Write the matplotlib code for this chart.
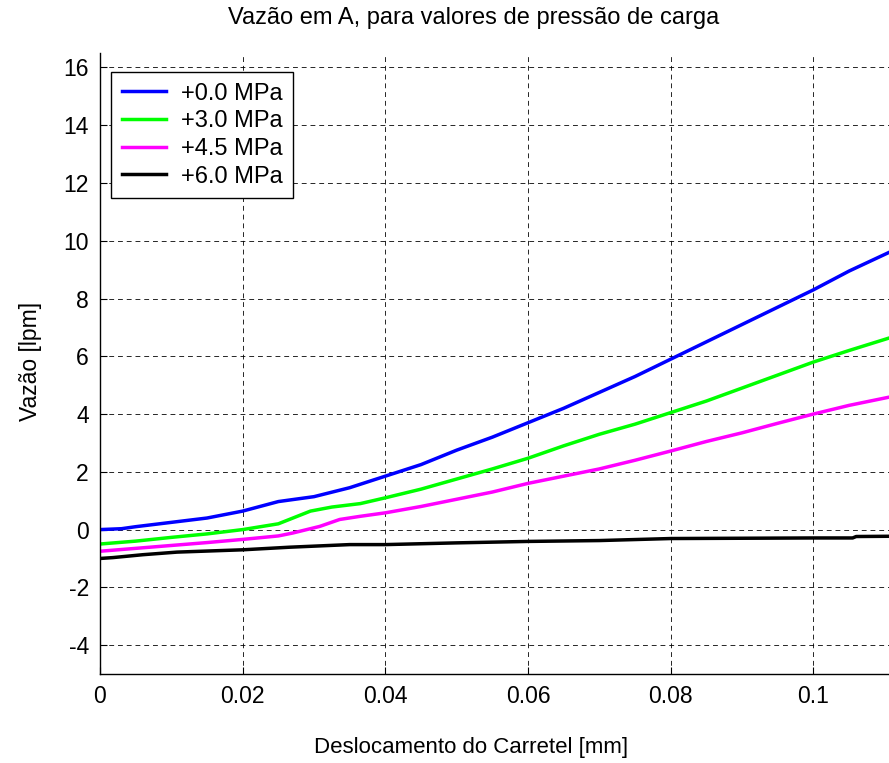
import matplotlib
matplotlib.use("Agg")
import matplotlib.pyplot as plt

plt.rcParams['font.family'] = ['Liberation Sans', 'DejaVu Sans']
plt.rcParams['axes.unicode_minus'] = False

# Spool displacement [mm] and flow [lpm] for each load pressure
x_p0 = [0.0, 0.003, 0.005, 0.01, 0.015, 0.02, 0.025, 0.03, 0.035, 0.04, 0.045, 0.05,
        0.055, 0.06, 0.065, 0.07, 0.075, 0.08, 0.085, 0.09, 0.095, 0.1, 0.105, 0.1115]
q_p0 = [0.0, 0.03, 0.1, 0.25, 0.4, 0.64, 0.97, 1.14, 1.45, 1.85, 2.25, 2.75,
        3.2, 3.7, 4.2, 4.75, 5.3, 5.9, 6.5, 7.1, 7.7, 8.3, 8.95, 9.7]

x_p3 = [0.0, 0.005, 0.01, 0.015, 0.02, 0.025, 0.0295, 0.0325, 0.0365, 0.04, 0.045, 0.05,
        0.055, 0.06, 0.065, 0.07, 0.075, 0.08, 0.085, 0.09, 0.095, 0.1, 0.105, 0.1115]
q_p3 = [-0.5, -0.4, -0.27, -0.15, 0.0, 0.2, 0.64, 0.78, 0.9, 1.1, 1.4, 1.75,
        2.1, 2.47, 2.9, 3.3, 3.65, 4.05, 4.45, 4.9, 5.35, 5.8, 6.2, 6.7]

x_p45 = [0.0, 0.005, 0.01, 0.015, 0.02, 0.025, 0.027, 0.0308, 0.0336, 0.0365, 0.04, 0.045,
         0.05, 0.055, 0.06, 0.065, 0.07, 0.075, 0.08, 0.085, 0.09, 0.095, 0.1, 0.105, 0.1115]
q_p45 = [-0.75, -0.65, -0.55, -0.45, -0.34, -0.22, -0.12, 0.11, 0.35, 0.46, 0.58, 0.8,
         1.05, 1.3, 1.6, 1.85, 2.1, 2.4, 2.72, 3.05, 3.35, 3.68, 4.0, 4.3, 4.63]

x_p6 = [0.0, 0.0018, 0.006, 0.0108, 0.02, 0.0266, 0.035, 0.04, 0.05, 0.06, 0.07, 0.08,
        0.09, 0.1, 0.1055, 0.106, 0.1115]
q_p6 = [-1.0, -0.97, -0.87, -0.78, -0.7, -0.61, -0.52, -0.52, -0.46, -0.41, -0.38, -0.31,
        -0.3, -0.29, -0.29, -0.24, -0.23]

labels = ['+0.0 MPa', '+3.0 MPa', '+4.5 MPa', '+6.0 MPa']
colors = ['#0000ff', '#00ff00', '#ff00ff', '#000000']

x_ticks = [0, 0.02, 0.04, 0.06, 0.08, 0.1]
x_ticklabels = ['0', '0.02', '0.04', '0.06', '0.08', '0.1']
y_ticks = [-4, -2, 0, 2, 4, 6, 8, 10, 12, 14, 16]

W, H = 889, 763
fig = plt.figure(figsize=(W / 100, H / 100), dpi=100)
ax = fig.add_axes([100 / W, 89 / H, 799 / W, 621 / H])

series = [(x_p0, q_p0), (x_p3, q_p3), (x_p45, q_p45), (x_p6, q_p6)]
for (xs, ys), lab, c in zip(series, labels, colors):
    ax.plot(xs, ys, color=c, lw=2.5, label=lab, solid_joinstyle='round')

ax.set_xlim(0, 0.112)
ax.set_ylim(-5, 16.5)
ax.set_xticks(x_ticks)
ax.set_xticklabels(x_ticklabels)
ax.set_yticks(y_ticks)
ax.tick_params(direction='in', length=5, width=0.8, labelsize=16.5, pad=8,
               top=False, right=False)
for s in ['top', 'right']:
    ax.spines[s].set_visible(False)
for s in ['left', 'bottom']:
    ax.spines[s].set_linewidth(1.0)

ax.grid(True, color='black', lw=0.7, linestyle=(0, (5, 4)), alpha=0.85)
ax.set_axisbelow(True)

fig.text(474 / W, 1 - 18 / H, 'Vazão em A, para valores de pressão de carga',
         ha='center', va='center', fontsize=17)
fig.text(471 / W, 1 - 748 / H, 'Deslocamento do Carretel [mm]',
         ha='center', va='center', fontsize=16)
fig.text(31 / W, 1 - 361 / H, 'Vazão [lpm]', ha='center', va='center',
         rotation=90, fontsize=16.5)

leg = ax.legend(loc='upper left', bbox_to_anchor=(111 / W, 1 - 72 / H),
                bbox_transform=fig.transFigure, fontsize=17, frameon=True,
                fancybox=False, borderaxespad=0, handlelength=1.9,
                handletextpad=0.6, labelspacing=0.24, borderpad=0.45)
leg.get_frame().set_edgecolor('black')
leg.get_frame().set_linewidth(1.0)
leg.get_frame().set_alpha(1)
for h in leg.get_lines():
    h.set_linewidth(2.5)

fig.savefig('out.png', dpi=100)
